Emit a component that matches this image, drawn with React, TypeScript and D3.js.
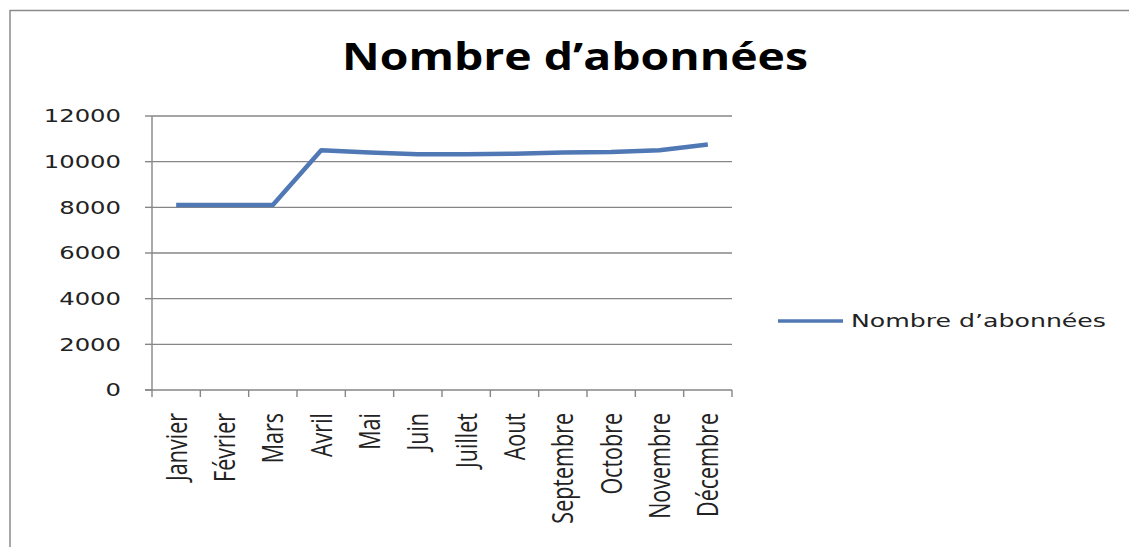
import React from "react";
import * as d3 from "d3";

const months = ["Janvier", "Février", "Mars", "Avril", "Mai", "Juin", "Juillet", "Aout", "Septembre", "Octobre", "Novembre", "Décembre"];
const abonnees = [8100, 8100, 8100, 10500, 10400, 10330, 10330, 10350, 10400, 10420, 10500, 10750];
const yTicks = [0, 2000, 4000, 6000, 8000, 10000, 12000];
const title = "Nombre d’abonnées";
const seriesName = "Nombre d’abonnées";

const W = 1129;
const H = 547;
const plot = { left: 152, right: 732, top: 116, bottom: 390 };
const SX = 1.35;
const LINE = "#4F78B5";
const GRID = "#868686";

export default function App() {
  const x = d3.scaleBand<string>().domain(months).range([plot.left, plot.right]).padding(0);
  const y = d3.scaleLinear().domain([0, 12000]).range([plot.bottom, plot.top]);
  const line = d3
    .line<number>()
    .x((_, i) => (x(months[i]) as number) + x.bandwidth() / 2)
    .y((d) => y(d))
    .curve(d3.curveLinear);
  const bounds = months.map((m) => x(m) as number).concat([plot.right]);

  return (
    <svg
      width={W}
      height={H}
      style={{ position: "absolute", left: 0, top: 0, background: "#fff" }}
    >
      <rect x={0} y={0} width={W} height={H} fill="#fff" />
      {/* outer frame */}
      <line x1={10} y1={10.5} x2={W} y2={10.5} stroke="#8a8a8a" strokeWidth={1.5} />
      <line x1={10} y1={10} x2={10} y2={H} stroke="#8a8a8a" strokeWidth={1.5} />

      {/* title */}
      <text
        x={342}
        y={70}
        fontFamily="'Open Sans', sans-serif"
        fontWeight="bold"
        fontSize={37}
        textLength={466}
        lengthAdjust="spacingAndGlyphs"
        fill="#000"
      >
        {title}
      </text>

      {/* gridlines + y ticks */}
      {yTicks.map((t) => (
        <g key={t}>
          {t !== 0 && (
            <line x1={plot.left} x2={plot.right} y1={y(t)} y2={y(t)} stroke={GRID} strokeWidth={1.4} />
          )}
          <line x1={plot.left - 7} x2={plot.left} y1={y(t)} y2={y(t)} stroke={GRID} strokeWidth={1.4} />
          <text
            transform={`translate(121,${y(t)}) scale(${SX},1)`}
            dy="0.36em"
            textAnchor="end"
            fontFamily="'DejaVu Sans', sans-serif"
            fontSize={18}
            fill="#222"
          >
            {t}
          </text>
        </g>
      ))}

      {/* axes */}
      <line x1={plot.left} x2={plot.left} y1={plot.top} y2={plot.bottom} stroke={GRID} strokeWidth={1.4} />
      <line x1={plot.left - 7} x2={plot.right} y1={plot.bottom} y2={plot.bottom} stroke={GRID} strokeWidth={1.4} />
      {bounds.map((b, i) => (
        <line key={i} x1={b} x2={b} y1={plot.bottom} y2={plot.bottom + 7} stroke={GRID} strokeWidth={1.4} />
      ))}

      {/* x labels */}
      {months.map((m) => {
        const cx = (x(m) as number) + x.bandwidth() / 2;
        return (
          <text
            key={m}
            transform={`translate(${cx},413) scale(${SX},1) rotate(-90)`}
            dy="0.36em"
            textAnchor="end"
            fontFamily="'Open Sans', sans-serif"
            fontSize={21.5}
            fill="#222"
          >
            {m}
          </text>
        );
      })}

      {/* data line */}
      <path d={line(abonnees) || ""} fill="none" stroke={LINE} strokeWidth={4.5} strokeLinejoin="round" />

      {/* legend */}
      <line x1={778} x2={843} y1={321} y2={321} stroke={LINE} strokeWidth={3.5} />
      <text
        x={851}
        y={327}
        fontFamily="'DejaVu Sans', sans-serif"
        fontSize={18.5}
        textLength={255}
        lengthAdjust="spacingAndGlyphs"
        fill="#222"
      >
        {seriesName}
      </text>
    </svg>
  );
}
